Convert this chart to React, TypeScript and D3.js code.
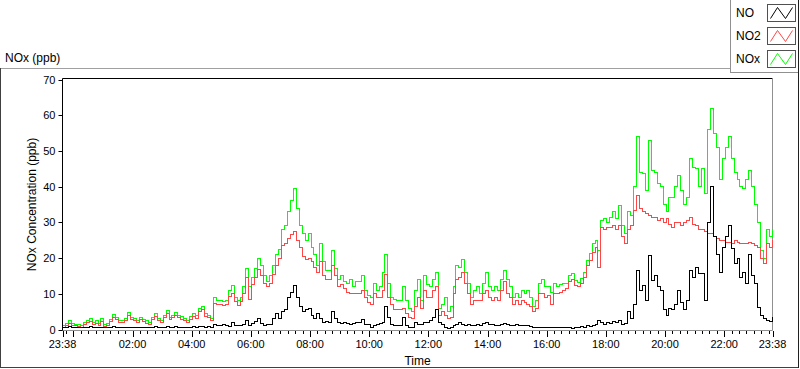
import React from 'react';
import * as d3 from 'd3';

// samples every 6 minutes, starting 23:38
const startTime = new Date(2016, 2, 1, 23, 38);
const sampleMinutes = 6;

const noValues = [
  0.5, 0.6, 0.8, 0.6, 0.5, 0.5, 0.5, 0.7, 0.7, 0.8,
  0.6, 0.7, 0.6, 0.7, 0.5, 0.6, 0.6, 0.8, 0.6, 0.6,
  0.6, 0.6, 0.7, 0.6, 0.6, 0.6, 0.7, 0.6, 0.6, 0.5,
  0.6, 0.8, 0.6, 0.6, 0.7, 0.8, 0.6, 0.7, 0.8, 0.6,
  0.7, 0.6, 0.6, 0.7, 0.8, 0.7, 0.9, 0.8, 0.7, 0.8,
  0.6, 1.5, 1.0, 1.2, 1.5, 1.0, 0.9, 2.0, 1.2, 1.0,
  1.1, 1.5, 2.5, 1.2, 1.8, 2.2, 3.0, 1.6, 1.2, 1.4,
  1.5, 3.0, 4.5, 3.0, 5.0, 5.5, 9.0, 10.5, 12.4, 9.0,
  6.5, 5.0, 5.5, 6.0, 4.0, 3.0, 4.5, 3.0, 2.0, 2.2,
  2.0, 5.0, 3.0, 2.0, 1.8, 2.0, 1.6, 1.5, 1.8, 2.0,
  2.0, 2.7, 1.5, 1.3, 0.7, 1.2, 1.5, 1.8, 2.0, 6.5,
  3.5, 1.5, 1.0, 1.0, 1.0, 3.5, 1.2, 0.5, 0.6, 2.0,
  1.5, 1.5, 2.0, 2.0, 2.5, 3.5, 5.5, 2.0, 1.5, 0.5,
  0.4, 0.5, 1.0, 1.5, 2.0, 1.5, 1.2, 1.3, 1.0, 1.2,
  1.5, 1.0, 1.8, 2.0, 1.3, 1.5, 1.2, 1.0, 1.5, 1.6,
  1.3, 1.2, 1.0, 1.4, 1.0, 1.1, 1.0, 1.0, 0.8, 0.6,
  0.5, 0.7, 0.6, 0.6, 0.5, 0.5, 0.6, 0.5, 0.6, 0.5,
  0.6, 0.7, 0.4, 0.7, 0.5, 0.8, 0.7, 1.0, 0.9, 1.2,
  1.5, 2.5, 2.0, 1.5, 2.0, 1.8, 2.2, 2.0, 2.6, 1.5,
  1.7, 5.0, 3.0, 7.0, 16.6, 11.0, 12.4, 8.0, 20.8, 13.8,
  15.0, 12.0, 11.0, 5.5, 4.0, 6.0, 5.5, 7.0, 11.0, 7.5,
  5.5, 8.0, 16.5, 14.7, 17.5, 15.7, 15.7, 8.0, 30.0, 40.0,
  26.0, 21.0, 16.0, 23.0, 26.0, 29.0, 22.6, 18.5, 20.0, 14.7,
  16.0, 13.0, 21.0, 15.0, 13.0, 6.3, 4.0, 3.0, 2.6, 2.3,
  3.5,
];

const no2Values = [
  0.7, 1.0, 1.8, 1.1, 1.0, 0.8, 0.7, 1.4, 1.9, 2.2,
  1.4, 1.8, 1.2, 2.3, 0.8, 1.2, 2.2, 3.5, 2.9, 1.9,
  2.0, 2.4, 4.0, 2.9, 2.4, 1.9, 2.8, 2.2, 1.8, 1.5,
  2.9, 3.7, 2.4, 1.9, 3.3, 4.5, 2.9, 3.3, 4.0, 3.4,
  2.8, 2.5, 2.0, 2.9, 3.6, 3.1, 5.0, 5.5, 3.6, 3.4,
  2.6, 7.2, 7.0, 7.0, 6.8, 7.0, 9.2, 10.0, 7.8, 6.8,
  7.8, 10.0, 14.5, 8.5, 12.5, 14.5, 16.8, 15.0, 13.0, 12.0,
  13.0, 15.5, 18.0, 20.0, 23.5, 24.0, 25.5, 26.5, 27.5, 25.0,
  23.0, 20.5, 19.5, 20.0, 19.0, 17.5, 16.0, 19.0, 15.0, 14.0,
  14.0, 18.0, 15.0, 12.0, 12.5, 11.5, 10.5, 10.0, 10.0, 10.0,
  10.0, 11.0, 9.0, 7.5, 7.0, 10.0, 9.0, 9.0, 11.0, 15.5,
  9.0, 7.0, 5.5, 5.5, 5.5, 6.0, 4.5, 3.5, 3.0, 6.5,
  9.0, 6.0, 11.0, 9.0, 9.0, 11.0, 12.0, 4.0, 5.0, 4.0,
  3.0, 3.5, 10.0, 14.0, 14.5, 16.0, 13.0, 10.0, 7.0, 8.0,
  8.0, 8.0, 10.0, 11.0, 9.0, 8.0, 9.0, 8.0, 11.0, 13.5,
  10.0, 9.0, 7.0, 8.0, 7.0, 8.0, 7.5, 7.0, 6.5, 5.0,
  6.0, 10.0, 10.0, 9.0, 9.6, 7.0, 10.0, 10.0, 10.5, 11.0,
  11.5, 13.5, 14.0, 12.4, 12.0, 13.0, 14.5, 18.0, 19.4, 21.5,
  23.0, 17.5, 28.7, 28.0, 28.5, 28.5, 29.0, 28.0, 29.0, 26.0,
  24.0, 28.0, 29.0, 33.4, 37.6, 34.0, 33.0, 32.5, 32.0, 31.5,
  31.5, 30.5, 31.0, 30.0, 31.0, 29.5, 28.5, 30.0, 30.0, 29.0,
  30.0, 30.5, 31.5, 29.5, 29.0, 28.0, 28.0, 27.5, 27.0, 27.0,
  26.0, 25.5, 25.0, 25.0, 24.5, 24.5, 24.0, 25.0, 24.5, 24.0,
  24.0, 24.0, 24.5, 24.0, 23.5, 23.0, 20.0, 18.5, 24.0, 23.0,
  25.0,
];

const noxValues = [
  1.2, 1.6, 2.6, 1.7, 1.5, 1.3, 1.2, 2.1, 2.6, 3.0,
  2.0, 2.5, 1.8, 3.0, 1.3, 1.8, 2.8, 4.3, 3.5, 2.5,
  2.6, 3.0, 4.7, 3.5, 3.0, 2.5, 3.5, 2.8, 2.4, 2.0,
  3.5, 4.5, 3.0, 2.5, 4.0, 5.3, 3.5, 4.0, 4.8, 4.0,
  3.7, 3.2, 2.5, 3.6, 4.5, 4.0, 6.0, 6.5, 4.5, 4.0,
  3.2, 9.0, 8.2, 8.0, 7.8, 8.0, 11.0, 12.3, 9.0, 8.0,
  9.0, 12.0, 17.0, 12.0, 14.5, 17.0, 19.8, 18.0, 15.0, 13.5,
  15.0, 18.0, 21.0, 22.5, 28.0, 29.0, 33.0, 36.0, 39.5, 34.0,
  29.0, 27.0, 25.0, 27.0, 23.0, 21.0, 18.0, 24.0, 19.0, 16.5,
  16.5, 22.0, 17.0, 14.0, 15.0, 13.5, 13.0, 14.0, 12.0, 13.5,
  13.5, 15.0, 11.0, 9.5, 9.0, 13.0, 11.0, 12.0, 16.0, 21.0,
  13.0, 9.0, 8.5, 8.0, 8.0, 12.0, 8.0, 6.0, 5.0, 11.0,
  14.0, 8.0, 15.0, 12.5, 12.0, 14.0, 16.0, 6.0, 7.0, 9.0,
  5.0, 6.5, 12.0, 18.0, 17.5, 19.5, 16.0, 13.0, 9.0, 11.0,
  12.0, 10.0, 13.0, 16.0, 12.0, 11.0, 12.0, 11.0, 14.0, 16.5,
  14.0, 12.0, 9.0, 10.0, 9.0, 11.0, 10.0, 11.0, 9.0, 6.5,
  8.0, 13.0, 14.0, 12.0, 12.0, 10.5, 12.9, 12.0, 12.5, 12.9,
  13.0, 15.0, 15.7, 13.8, 13.3, 14.3, 16.0, 19.4, 21.3, 24.0,
  25.0, 22.0, 30.6, 31.0, 30.0, 31.5, 33.0, 31.0, 34.8, 29.0,
  27.0, 33.0, 32.0, 40.0, 54.0, 44.0, 43.7, 39.0, 53.0, 44.6,
  44.0, 41.0, 40.0, 35.0, 33.0, 37.0, 37.0, 40.0, 43.0, 39.0,
  35.0, 37.0, 48.0, 45.5, 45.0, 40.0, 45.0, 38.0, 56.0, 62.0,
  55.0, 51.0, 42.0, 48.0, 51.0, 54.0, 48.0, 44.0, 42.0, 40.0,
  39.5, 42.0, 44.6, 40.0, 35.0, 30.0, 22.0, 20.0, 28.0, 26.0,
  28.0,
];

const seriesNames = ['NO', 'NO2', 'NOx'];
const seriesColors = ['#000000', '#ff4646', '#00ff00'];
const yTicks = [0, 10, 20, 30, 40, 50, 60, 70];
const xTickLabels = ['23:38', '02:00', '04:00', '06:00', '08:00', '10:00', '12:00',
  '14:00', '16:00', '18:00', '20:00', '22:00', '23:38'];

const W = 800;
const H = 369;
const plot = { left: 62.5, right: 772.5, top: 79.5, bottom: 329.5 };
const font = "'Liberation Sans', Arial, sans-serif";

const endTime = d3.timeHour.offset(startTime, 24);

const x = d3.scaleTime().domain([startTime, endTime]).range([plot.left, plot.right]);
const y = d3.scaleLinear().domain([0, 70]).range([plot.bottom, plot.top]);

const timeAt = (i: number) => d3.timeMinute.offset(startTime, i * sampleMinutes);

const labelTime = (label: string, i: number) => {
  if (i === xTickLabels.length - 1) return endTime;
  const [hh, mm] = label.split(':').map(Number);
  const startMin = startTime.getHours() * 60 + startTime.getMinutes();
  const off = (hh * 60 + mm - startMin + 1440) % 1440;
  return d3.timeMinute.offset(startTime, off);
};

const App = () => {
  const line = d3.line<number>()
    .x((_, i) => x(timeAt(i)))
    .y(d => y(d))
    .curve(d3.curveStepAfter);

  const series = [noValues, no2Values, noxValues];
  const drawOrder = [2, 1, 0];

  const minorTicks = d3.timeMinute.every(15)!.range(startTime, endTime);
  const majorTicks = [startTime, ...d3.timeHour.every(2)!.range(startTime, endTime), endTime];

  return (
    <svg width={W} height={H} style={{ position: 'absolute', left: 0, top: 0, background: '#fff' }}
      fontFamily={font}>
      {/* outer panel frame */}
      <line x1={0} x2={730} y1={68.5} y2={68.5} stroke="#a0a0a0" />
      <line x1={0.5} x2={0.5} y1={68} y2={368} stroke="#404040" />
      <line x1={0} x2={799} y1={367.5} y2={367.5} stroke="#404040" />
      <line x1={798.5} x2={798.5} y1={0} y2={368} stroke="#202020" />

      <text x={5} y={62} fontSize={12} fill="#000">NOx (ppb)</text>

      {/* legend */}
      <rect x={730.5} y={-1} width={68} height={73.5} fill="#fff" stroke="#909090" />
      <line x1={798.5} x2={798.5} y1={0} y2={73} stroke="#202020" />
      {seriesNames.map((name, i) => {
        const cy = 13 + i * 23;
        const bx = 767.5, bw = 28, bh = 17, by = cy - 8.5;
        return (
          <g key={name}>
            <text x={736} y={cy + 4} fontSize={12} fill="#000">{name}</text>
            <rect x={bx} y={by} width={bw} height={bh} fill="#fff" stroke="#505050" />
            <path d={`M${bx + 3},${by + bh - 3} L${bx + 10},${by + 3} L${bx + 18},${by + bh - 3} L${bx + 25},${by + 3}`}
              fill="none" stroke={seriesColors[i]} strokeWidth={1} />
          </g>
        );
      })}

      {/* plot frame */}
      <rect x={plot.left} y={plot.top - 1} width={plot.right - plot.left} height={plot.bottom - plot.top + 2}
        fill="#fff" stroke="none" />
      <line x1={plot.left} x2={plot.right} y1={78.5} y2={78.5} stroke="#000" />
      <line x1={plot.right} x2={plot.right} y1={78.5} y2={330.5} stroke="#909090" />
      <line x1={plot.left} x2={plot.right} y1={330.5} y2={330.5} stroke="#909090" />
      <line x1={plot.left} x2={plot.left} y1={78.5} y2={330.5} stroke="#000" />

      {/* series */}
      <g shapeRendering="crispEdges">
        {drawOrder.map(k => (
          <path key={k} d={line(series[k]) || ''} fill="none" stroke={seriesColors[k]} strokeWidth={1} />
        ))}
      </g>

      {/* y axis */}
      {yTicks.map(t => (
        <g key={t}>
          <line x1={plot.left - 4} x2={plot.left} y1={Math.round(y(t)) + 0.5} y2={Math.round(y(t)) + 0.5} stroke="#000" />
          <text x={plot.left - 7} y={y(t) + 4} fontSize={11} textAnchor="end" fill="#000">{t}</text>
        </g>
      ))}
      <text transform={`translate(36,${(plot.top + plot.bottom) / 2}) rotate(-90)`} fontSize={12}
        textAnchor="middle" fill="#000">NOx Concentration (ppb)</text>

      {/* x axis */}
      {minorTicks.map((t, i) => (
        <line key={'m' + i} x1={Math.round(x(t)) + 0.5} x2={Math.round(x(t)) + 0.5} y1={331} y2={334} stroke="#000" />
      ))}
      {majorTicks.map((t, i) => (
        <line key={'M' + i} x1={Math.round(x(t)) + 0.5} x2={Math.round(x(t)) + 0.5} y1={331} y2={337} stroke="#000" />
      ))}
      {xTickLabels.map((lab, i) => (
        <text key={lab + i} x={x(labelTime(lab, i))} y={348} fontSize={11} textAnchor="middle" fill="#000">{lab}</text>
      ))}
      <text x={(plot.left + plot.right) / 2} y={365} fontSize={12} textAnchor="middle" fill="#000">Time</text>
    </svg>
  );
};

export default App;
